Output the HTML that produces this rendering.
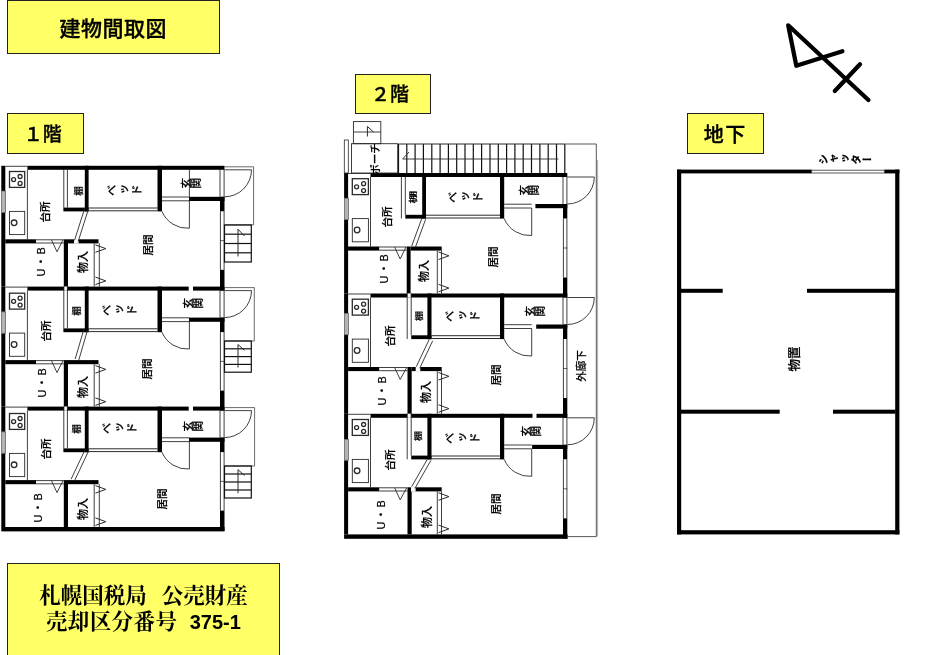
<!DOCTYPE html>
<html lang="ja"><head><meta charset="utf-8"><title>建物間取図</title>
<style>
html,body{margin:0;padding:0;background:#fff;}
body{width:931px;height:655px;position:relative;overflow:hidden;font-family:"Liberation Sans","Noto Sans CJK JP",sans-serif;color:#000;}
svg{position:absolute;left:0;top:0;}
.tag{position:absolute;background:#ffff66;border:1px solid #222;box-sizing:border-box;display:flex;align-items:center;justify-content:center;white-space:nowrap;}
.l{position:absolute;white-space:nowrap;line-height:1;color:#000;font-weight:500;-webkit-text-stroke:0.2px #000;filter:grayscale(1);transform:translate(-50%,-50%) rotate(-90deg);}
.g{filter:grayscale(1);}
span.g{-webkit-text-stroke:0.35px #000;}
.l.v{writing-mode:vertical-rl;text-orientation:upright;}
</style></head><body>
<svg width="931" height="655" viewBox="0 0 931 655">
<rect x="1.3" y="165.8" width="4.0" height="25.3" fill="#000"/>
<rect x="1.3" y="212.4" width="4.0" height="74.2" fill="#000"/>
<rect x="1.6" y="191.1" width="4.0" height="21.3" fill="#b4b4b4" stroke="#666" stroke-width="0.8"/>
<line x1="5.3" y1="166.3" x2="27.4" y2="166.3" stroke="#2a2a2a" stroke-width="0.9"/>
<rect x="27.4" y="165.8" width="197.1" height="4.0" fill="#000"/>
<line x1="27.4" y1="169.8" x2="27.4" y2="239.3" stroke="#2a2a2a" stroke-width="0.9"/>
<rect x="9.5" y="171.5" width="15.2" height="15.9" fill="none" stroke="#2a2a2a" stroke-width="1.3"/>
<circle cx="13.6" cy="179.6" r="2.0" fill="none" stroke="#2a2a2a" stroke-width="1.3"/>
<circle cx="20.1" cy="176.5" r="2.0" fill="none" stroke="#2a2a2a" stroke-width="1.3"/>
<circle cx="20.1" cy="183.4" r="2.0" fill="none" stroke="#2a2a2a" stroke-width="1.3"/>
<rect x="9.5" y="211.4" width="15.2" height="23.2" fill="none" stroke="#2a2a2a" stroke-width="0.9"/>
<circle cx="14.1" cy="222.8" r="2.8" fill="none" stroke="#2a2a2a" stroke-width="1.3"/>
<line x1="63.8" y1="169.8" x2="63.8" y2="211.3" stroke="#2a2a2a" stroke-width="0.9"/>
<line x1="67.4" y1="169.8" x2="67.4" y2="207.6" stroke="#2a2a2a" stroke-width="0.9"/>
<rect x="63.8" y="207.6" width="24.8" height="3.8" fill="#000"/>
<rect x="84.8" y="165.8" width="3.8" height="45.6" fill="#000"/>
<line x1="88.6" y1="208.0" x2="157.5" y2="208.0" stroke="#2a2a2a" stroke-width="1.0"/>
<line x1="88.6" y1="210.8" x2="157.5" y2="210.8" stroke="#2a2a2a" stroke-width="1.0"/>
<rect x="157.5" y="165.8" width="4.5" height="45.6" fill="#000"/>
<line x1="162.0" y1="197.0" x2="189.4" y2="197.0" stroke="#2a2a2a" stroke-width="0.9"/>
<line x1="162.0" y1="200.8" x2="189.4" y2="200.8" stroke="#2a2a2a" stroke-width="0.9"/>
<line x1="189.4" y1="169.8" x2="189.4" y2="196.8" stroke="#2a2a2a" stroke-width="0.9"/>
<rect x="189.0" y="196.8" width="35.5" height="4.2" fill="#000"/>
<rect x="220.0" y="196.8" width="4.5" height="14.5" fill="#000"/>
<line x1="189.4" y1="200.8" x2="189.4" y2="228.2" stroke="#2a2a2a" stroke-width="0.9"/>
<path d="M189.4,228.2 A27.4,27.4 0 0 1 162.0,211.4" fill="none" stroke="#2a2a2a" stroke-width="0.9" />
<line x1="220.0" y1="169.8" x2="220.0" y2="196.8" stroke="#2a2a2a" stroke-width="0.9"/>
<line x1="224.1" y1="169.8" x2="224.1" y2="196.8" stroke="#2a2a2a" stroke-width="0.9"/>
<line x1="220.4" y1="211.3" x2="220.4" y2="269.8" stroke="#2a2a2a" stroke-width="0.9"/>
<line x1="224.1" y1="211.3" x2="224.1" y2="269.8" stroke="#2a2a2a" stroke-width="0.9"/>
<line x1="220.0" y1="240.6" x2="224.5" y2="240.6" stroke="#2a2a2a" stroke-width="0.7"/>
<rect x="220.0" y="269.8" width="4.5" height="20.8" fill="#000"/>
<line x1="224.5" y1="169.8" x2="251.5" y2="169.8" stroke="#2a2a2a" stroke-width="0.9"/>
<path d="M251.5,169.8 A27,27 0 0 1 224.5,196.8" fill="none" stroke="#2a2a2a" stroke-width="0.9" />
<rect x="5.3" y="239.3" width="30.7" height="4.1" fill="#000"/>
<line x1="36.0" y1="239.8" x2="63.8" y2="239.8" stroke="#2a2a2a" stroke-width="0.9"/>
<line x1="36.0" y1="243.0" x2="63.8" y2="243.0" stroke="#2a2a2a" stroke-width="0.9"/>
<path d="M51.4,239.8 L57.0,251.8 L63.0,239.8" fill="none" stroke="#2a2a2a" stroke-width="0.9" />
<rect x="63.8" y="239.3" width="4.2" height="47.3" fill="#000"/>
<rect x="68.0" y="239.3" width="30.5" height="4.1" fill="#000"/>
<rect x="74.0" y="239.1" width="4.6" height="4.5" fill="#fff"/>
<line x1="94.2" y1="243.4" x2="94.2" y2="286.6" stroke="#2a2a2a" stroke-width="0.9"/>
<line x1="99.3" y1="243.4" x2="99.3" y2="286.6" stroke="#2a2a2a" stroke-width="0.9"/>
<path d="M95.4,244.8 L105.8,248.6 L95.4,252.3" fill="none" stroke="#2a2a2a" stroke-width="1.0" />
<path d="M95.4,277.1 L105.8,280.9 L95.4,284.6" fill="none" stroke="#2a2a2a" stroke-width="1.0" />
<line x1="84.7" y1="208.4" x2="74.5" y2="240.4" stroke="#2a2a2a" stroke-width="0.9"/>
<line x1="88.3" y1="209.6" x2="78.1" y2="241.6" stroke="#2a2a2a" stroke-width="0.9"/>
<rect x="1.3" y="286.6" width="4.0" height="25.3" fill="#000"/>
<rect x="1.3" y="333.2" width="4.0" height="73.4" fill="#000"/>
<rect x="1.6" y="311.9" width="4.0" height="21.3" fill="#b4b4b4" stroke="#666" stroke-width="0.8"/>
<line x1="5.3" y1="287.1" x2="27.4" y2="287.1" stroke="#2a2a2a" stroke-width="0.9"/>
<rect x="27.4" y="286.6" width="161.3" height="4.0" fill="#000"/>
<rect x="193.0" y="286.6" width="31.5" height="4.0" fill="#000"/>
<line x1="27.4" y1="290.6" x2="27.4" y2="360.1" stroke="#2a2a2a" stroke-width="0.9"/>
<rect x="9.5" y="293.2" width="15.2" height="15.9" fill="none" stroke="#2a2a2a" stroke-width="1.3"/>
<circle cx="13.6" cy="301.3" r="2.0" fill="none" stroke="#2a2a2a" stroke-width="1.3"/>
<circle cx="20.1" cy="298.2" r="2.0" fill="none" stroke="#2a2a2a" stroke-width="1.3"/>
<circle cx="20.1" cy="305.1" r="2.0" fill="none" stroke="#2a2a2a" stroke-width="1.3"/>
<rect x="9.5" y="333.1" width="15.2" height="23.2" fill="none" stroke="#2a2a2a" stroke-width="0.9"/>
<circle cx="14.1" cy="344.5" r="2.8" fill="none" stroke="#2a2a2a" stroke-width="1.3"/>
<line x1="63.8" y1="286.6" x2="63.8" y2="332.1" stroke="#2a2a2a" stroke-width="0.9"/>
<line x1="67.4" y1="286.6" x2="67.4" y2="328.4" stroke="#2a2a2a" stroke-width="0.9"/>
<rect x="64.3" y="286.6" width="2.6" height="4.0" fill="#fff"/>
<rect x="63.8" y="328.4" width="24.8" height="3.8" fill="#000"/>
<rect x="84.8" y="286.6" width="3.8" height="45.6" fill="#000"/>
<line x1="88.6" y1="328.8" x2="157.5" y2="328.8" stroke="#2a2a2a" stroke-width="1.0"/>
<line x1="88.6" y1="331.6" x2="157.5" y2="331.6" stroke="#2a2a2a" stroke-width="1.0"/>
<rect x="157.5" y="286.6" width="4.5" height="45.6" fill="#000"/>
<line x1="162.0" y1="317.8" x2="189.4" y2="317.8" stroke="#2a2a2a" stroke-width="0.9"/>
<line x1="162.0" y1="321.6" x2="189.4" y2="321.6" stroke="#2a2a2a" stroke-width="0.9"/>
<rect x="189.0" y="317.6" width="35.5" height="4.2" fill="#000"/>
<rect x="220.0" y="317.6" width="4.5" height="14.5" fill="#000"/>
<line x1="189.4" y1="321.6" x2="189.4" y2="349.0" stroke="#2a2a2a" stroke-width="0.9"/>
<path d="M189.4,349.0 A27.4,27.4 0 0 1 162.0,332.2" fill="none" stroke="#2a2a2a" stroke-width="0.9" />
<line x1="220.0" y1="290.6" x2="220.0" y2="317.6" stroke="#2a2a2a" stroke-width="0.9"/>
<line x1="224.1" y1="290.6" x2="224.1" y2="317.6" stroke="#2a2a2a" stroke-width="0.9"/>
<line x1="220.4" y1="332.1" x2="220.4" y2="390.6" stroke="#2a2a2a" stroke-width="0.9"/>
<line x1="224.1" y1="332.1" x2="224.1" y2="390.6" stroke="#2a2a2a" stroke-width="0.9"/>
<line x1="220.0" y1="361.4" x2="224.5" y2="361.4" stroke="#2a2a2a" stroke-width="0.7"/>
<rect x="220.0" y="390.6" width="4.5" height="20.0" fill="#000"/>
<line x1="224.5" y1="290.6" x2="251.5" y2="290.6" stroke="#2a2a2a" stroke-width="0.9"/>
<path d="M251.5,290.6 A27,27 0 0 1 224.5,317.6" fill="none" stroke="#2a2a2a" stroke-width="0.9" />
<rect x="5.3" y="360.1" width="30.7" height="4.1" fill="#000"/>
<line x1="36.0" y1="360.6" x2="63.8" y2="360.6" stroke="#2a2a2a" stroke-width="0.9"/>
<line x1="36.0" y1="363.8" x2="63.8" y2="363.8" stroke="#2a2a2a" stroke-width="0.9"/>
<path d="M51.4,360.6 L57.0,372.6 L63.0,360.6" fill="none" stroke="#2a2a2a" stroke-width="0.9" />
<rect x="63.8" y="360.1" width="4.2" height="46.5" fill="#000"/>
<rect x="68.0" y="360.1" width="30.5" height="4.1" fill="#000"/>
<line x1="94.2" y1="364.2" x2="94.2" y2="406.6" stroke="#2a2a2a" stroke-width="0.9"/>
<line x1="99.3" y1="364.2" x2="99.3" y2="406.6" stroke="#2a2a2a" stroke-width="0.9"/>
<path d="M95.4,365.6 L105.8,369.4 L95.4,373.1" fill="none" stroke="#2a2a2a" stroke-width="1.0" />
<path d="M95.4,397.9 L105.8,401.7 L95.4,405.4" fill="none" stroke="#2a2a2a" stroke-width="1.0" />
<line x1="83.8" y1="329.5" x2="75.2" y2="359.0" stroke="#2a2a2a" stroke-width="0.9"/>
<line x1="87.4" y1="330.5" x2="78.8" y2="360.0" stroke="#2a2a2a" stroke-width="0.9"/>
<rect x="1.3" y="406.6" width="4.0" height="25.3" fill="#000"/>
<rect x="1.3" y="453.2" width="4.0" height="73.8" fill="#000"/>
<rect x="1.6" y="431.9" width="4.0" height="21.3" fill="#b4b4b4" stroke="#666" stroke-width="0.8"/>
<line x1="5.3" y1="407.1" x2="27.4" y2="407.1" stroke="#2a2a2a" stroke-width="0.9"/>
<rect x="27.4" y="406.6" width="161.3" height="4.0" fill="#000"/>
<rect x="193.0" y="406.6" width="31.5" height="4.0" fill="#000"/>
<line x1="27.4" y1="410.6" x2="27.4" y2="480.1" stroke="#2a2a2a" stroke-width="0.9"/>
<rect x="9.5" y="413.5" width="15.2" height="15.9" fill="none" stroke="#2a2a2a" stroke-width="1.3"/>
<circle cx="13.6" cy="421.6" r="2.0" fill="none" stroke="#2a2a2a" stroke-width="1.3"/>
<circle cx="20.1" cy="418.5" r="2.0" fill="none" stroke="#2a2a2a" stroke-width="1.3"/>
<circle cx="20.1" cy="425.4" r="2.0" fill="none" stroke="#2a2a2a" stroke-width="1.3"/>
<rect x="9.5" y="453.4" width="15.2" height="23.2" fill="none" stroke="#2a2a2a" stroke-width="0.9"/>
<circle cx="14.1" cy="464.8" r="2.8" fill="none" stroke="#2a2a2a" stroke-width="1.3"/>
<line x1="63.8" y1="406.6" x2="63.8" y2="452.1" stroke="#2a2a2a" stroke-width="0.9"/>
<line x1="67.4" y1="406.6" x2="67.4" y2="448.4" stroke="#2a2a2a" stroke-width="0.9"/>
<rect x="64.3" y="406.6" width="2.6" height="4.0" fill="#fff"/>
<rect x="63.8" y="448.4" width="24.8" height="3.8" fill="#000"/>
<rect x="84.8" y="406.6" width="3.8" height="45.6" fill="#000"/>
<line x1="88.6" y1="448.8" x2="157.5" y2="448.8" stroke="#2a2a2a" stroke-width="1.0"/>
<line x1="88.6" y1="451.6" x2="157.5" y2="451.6" stroke="#2a2a2a" stroke-width="1.0"/>
<rect x="157.5" y="406.6" width="4.5" height="45.6" fill="#000"/>
<line x1="162.0" y1="437.8" x2="189.4" y2="437.8" stroke="#2a2a2a" stroke-width="0.9"/>
<line x1="162.0" y1="441.6" x2="189.4" y2="441.6" stroke="#2a2a2a" stroke-width="0.9"/>
<rect x="189.0" y="437.6" width="35.5" height="4.2" fill="#000"/>
<rect x="220.0" y="437.6" width="4.5" height="14.5" fill="#000"/>
<line x1="189.4" y1="441.6" x2="189.4" y2="469.0" stroke="#2a2a2a" stroke-width="0.9"/>
<path d="M189.4,469.0 A27.4,27.4 0 0 1 162.0,452.2" fill="none" stroke="#2a2a2a" stroke-width="0.9" />
<line x1="220.0" y1="410.6" x2="220.0" y2="437.6" stroke="#2a2a2a" stroke-width="0.9"/>
<line x1="224.1" y1="410.6" x2="224.1" y2="437.6" stroke="#2a2a2a" stroke-width="0.9"/>
<line x1="220.4" y1="452.1" x2="220.4" y2="510.6" stroke="#2a2a2a" stroke-width="0.9"/>
<line x1="224.1" y1="452.1" x2="224.1" y2="510.6" stroke="#2a2a2a" stroke-width="0.9"/>
<line x1="220.0" y1="481.4" x2="224.5" y2="481.4" stroke="#2a2a2a" stroke-width="0.7"/>
<rect x="220.0" y="510.6" width="4.5" height="20.4" fill="#000"/>
<line x1="224.5" y1="410.6" x2="251.5" y2="410.6" stroke="#2a2a2a" stroke-width="0.9"/>
<path d="M251.5,410.6 A27,27 0 0 1 224.5,437.6" fill="none" stroke="#2a2a2a" stroke-width="0.9" />
<rect x="5.3" y="480.1" width="30.7" height="4.1" fill="#000"/>
<line x1="36.0" y1="480.6" x2="63.8" y2="480.6" stroke="#2a2a2a" stroke-width="0.9"/>
<line x1="36.0" y1="483.8" x2="63.8" y2="483.8" stroke="#2a2a2a" stroke-width="0.9"/>
<path d="M51.4,480.6 L57.0,492.6 L63.0,480.6" fill="none" stroke="#2a2a2a" stroke-width="0.9" />
<rect x="63.8" y="480.1" width="4.2" height="46.9" fill="#000"/>
<rect x="68.0" y="480.1" width="30.5" height="4.1" fill="#000"/>
<line x1="94.2" y1="484.2" x2="94.2" y2="527.0" stroke="#2a2a2a" stroke-width="0.9"/>
<line x1="99.3" y1="484.2" x2="99.3" y2="527.0" stroke="#2a2a2a" stroke-width="0.9"/>
<path d="M95.4,485.6 L105.8,489.4 L95.4,493.1" fill="none" stroke="#2a2a2a" stroke-width="1.0" />
<path d="M95.4,517.9 L105.8,521.7 L95.4,525.4" fill="none" stroke="#2a2a2a" stroke-width="1.0" />
<line x1="85.3" y1="449.2" x2="71.1" y2="479.2" stroke="#2a2a2a" stroke-width="0.9"/>
<line x1="88.7" y1="450.8" x2="74.5" y2="480.8" stroke="#2a2a2a" stroke-width="0.9"/>
<rect x="1.3" y="527.0" width="223.2" height="4.4" fill="#000"/>
<path d="M224.5,166.8 L253.6,166.8 L253.6,224.8 L224.5,224.8" fill="none" stroke="#444" stroke-width="0.8" />
<rect x="224.5" y="225.0" width="26.8" height="37.0" fill="none" stroke="#111" stroke-width="1.2"/>
<line x1="224.5" y1="234.2" x2="251.3" y2="234.2" stroke="#111" stroke-width="1.2"/>
<line x1="224.5" y1="243.5" x2="251.3" y2="243.5" stroke="#111" stroke-width="1.2"/>
<line x1="224.5" y1="252.8" x2="251.3" y2="252.8" stroke="#111" stroke-width="1.2"/>
<line x1="238.0" y1="229.2" x2="238.0" y2="256.4" stroke="#2a2a2a" stroke-width="1.0"/>
<line x1="238.0" y1="229.2" x2="244.5" y2="236.1" stroke="#2a2a2a" stroke-width="1.0"/>
<path d="M224.5,287.6 L254.3,287.6 L254.3,341.0 L224.5,341.0" fill="none" stroke="#444" stroke-width="0.8" />
<rect x="224.5" y="341.0" width="26.8" height="31.2" fill="none" stroke="#111" stroke-width="1.2"/>
<line x1="224.5" y1="348.8" x2="251.3" y2="348.8" stroke="#111" stroke-width="1.2"/>
<line x1="224.5" y1="356.6" x2="251.3" y2="356.6" stroke="#111" stroke-width="1.2"/>
<line x1="224.5" y1="364.4" x2="251.3" y2="364.4" stroke="#111" stroke-width="1.2"/>
<line x1="238.0" y1="344.5" x2="238.0" y2="367.5" stroke="#2a2a2a" stroke-width="1.0"/>
<line x1="238.0" y1="344.5" x2="244.5" y2="350.4" stroke="#2a2a2a" stroke-width="1.0"/>
<path d="M224.5,407.6 L254.6,407.6 L254.6,466.0 L224.5,466.0" fill="none" stroke="#444" stroke-width="0.8" />
<rect x="224.5" y="466.0" width="26.8" height="32.0" fill="none" stroke="#111" stroke-width="1.2"/>
<line x1="224.5" y1="474.0" x2="251.3" y2="474.0" stroke="#111" stroke-width="1.2"/>
<line x1="224.5" y1="482.0" x2="251.3" y2="482.0" stroke="#111" stroke-width="1.2"/>
<line x1="224.5" y1="490.0" x2="251.3" y2="490.0" stroke="#111" stroke-width="1.2"/>
<line x1="238.0" y1="469.6" x2="238.0" y2="493.2" stroke="#2a2a2a" stroke-width="1.0"/>
<line x1="238.0" y1="469.6" x2="244.5" y2="475.6" stroke="#2a2a2a" stroke-width="1.0"/>
<rect x="344.1" y="173.0" width="4.0" height="25.3" fill="#000"/>
<rect x="344.1" y="219.6" width="4.0" height="73.9" fill="#000"/>
<rect x="344.4" y="198.3" width="4.0" height="21.3" fill="#b4b4b4" stroke="#666" stroke-width="0.8"/>
<line x1="348.1" y1="173.5" x2="370.5" y2="173.5" stroke="#2a2a2a" stroke-width="0.9"/>
<rect x="370.5" y="173.0" width="196.8" height="4.0" fill="#000"/>
<line x1="370.5" y1="177.0" x2="370.5" y2="246.5" stroke="#2a2a2a" stroke-width="0.9"/>
<rect x="352.3" y="178.7" width="16.1" height="15.9" fill="none" stroke="#2a2a2a" stroke-width="1.3"/>
<circle cx="356.6" cy="186.8" r="2.0" fill="none" stroke="#2a2a2a" stroke-width="1.3"/>
<circle cx="363.6" cy="183.7" r="2.0" fill="none" stroke="#2a2a2a" stroke-width="1.3"/>
<circle cx="363.6" cy="190.6" r="2.0" fill="none" stroke="#2a2a2a" stroke-width="1.3"/>
<rect x="352.3" y="218.6" width="16.1" height="23.2" fill="none" stroke="#2a2a2a" stroke-width="0.9"/>
<circle cx="357.1" cy="230.0" r="2.8" fill="none" stroke="#2a2a2a" stroke-width="1.3"/>
<line x1="401.4" y1="177.0" x2="401.4" y2="218.5" stroke="#2a2a2a" stroke-width="0.9"/>
<line x1="405.3" y1="177.0" x2="405.3" y2="214.8" stroke="#2a2a2a" stroke-width="0.9"/>
<rect x="405.3" y="214.8" width="20.7" height="3.8" fill="#000"/>
<rect x="422.2" y="173.0" width="3.8" height="45.6" fill="#000"/>
<line x1="426.0" y1="215.2" x2="500.0" y2="215.2" stroke="#2a2a2a" stroke-width="1.0"/>
<line x1="426.0" y1="218.0" x2="500.0" y2="218.0" stroke="#2a2a2a" stroke-width="1.0"/>
<rect x="500.0" y="173.0" width="4.2" height="45.6" fill="#000"/>
<line x1="504.2" y1="204.2" x2="531.7" y2="204.2" stroke="#2a2a2a" stroke-width="0.9"/>
<line x1="504.2" y1="208.0" x2="531.7" y2="208.0" stroke="#2a2a2a" stroke-width="0.9"/>
<rect x="535.4" y="204.0" width="31.9" height="4.2" fill="#000"/>
<rect x="563.0" y="204.0" width="4.3" height="14.5" fill="#000"/>
<line x1="531.7" y1="208.0" x2="531.7" y2="235.5" stroke="#2a2a2a" stroke-width="0.9"/>
<path d="M531.7,235.5 A27.5,27.5 0 0 1 504.2,218.6" fill="none" stroke="#2a2a2a" stroke-width="0.9" />
<line x1="563.0" y1="177.0" x2="563.0" y2="204.0" stroke="#2a2a2a" stroke-width="0.9"/>
<line x1="566.9" y1="177.0" x2="566.9" y2="204.0" stroke="#2a2a2a" stroke-width="0.9"/>
<line x1="563.4" y1="218.5" x2="563.4" y2="277.5" stroke="#2a2a2a" stroke-width="0.9"/>
<line x1="566.9" y1="218.5" x2="566.9" y2="277.5" stroke="#2a2a2a" stroke-width="0.9"/>
<line x1="563.0" y1="248.0" x2="567.3" y2="248.0" stroke="#2a2a2a" stroke-width="0.7"/>
<rect x="563.0" y="277.5" width="4.3" height="20.0" fill="#000"/>
<line x1="567.3" y1="177.0" x2="594.3" y2="177.0" stroke="#2a2a2a" stroke-width="0.9"/>
<path d="M594.3,177.0 A27,27 0 0 1 567.3,204.0" fill="none" stroke="#2a2a2a" stroke-width="0.9" />
<rect x="348.1" y="246.5" width="31.1" height="4.1" fill="#000"/>
<line x1="379.2" y1="247.0" x2="406.7" y2="247.0" stroke="#2a2a2a" stroke-width="0.9"/>
<line x1="379.2" y1="250.2" x2="406.7" y2="250.2" stroke="#2a2a2a" stroke-width="0.9"/>
<path d="M394.6,247.0 L400.2,259.0 L405.9,247.0" fill="none" stroke="#2a2a2a" stroke-width="0.9" />
<rect x="406.7" y="246.5" width="3.9" height="47.0" fill="#000"/>
<rect x="410.6" y="246.5" width="31.1" height="4.1" fill="#000"/>
<line x1="437.3" y1="250.6" x2="437.3" y2="293.5" stroke="#2a2a2a" stroke-width="0.9"/>
<line x1="441.5" y1="250.6" x2="441.5" y2="293.5" stroke="#2a2a2a" stroke-width="0.9"/>
<path d="M438.5,252.0 L448.9,255.8 L438.5,259.5" fill="none" stroke="#2a2a2a" stroke-width="1.0" />
<path d="M438.5,284.3 L448.9,288.1 L438.5,291.8" fill="none" stroke="#2a2a2a" stroke-width="1.0" />
<line x1="422.0" y1="217.9" x2="411.7" y2="246.1" stroke="#2a2a2a" stroke-width="0.9"/>
<line x1="425.6" y1="219.3" x2="415.3" y2="247.5" stroke="#2a2a2a" stroke-width="0.9"/>
<rect x="344.1" y="293.5" width="4.0" height="20.0" fill="#000"/>
<rect x="344.1" y="334.7" width="4.0" height="79.1" fill="#000"/>
<rect x="344.4" y="313.5" width="4.0" height="21.2" fill="#b4b4b4" stroke="#666" stroke-width="0.8"/>
<line x1="348.1" y1="294.0" x2="370.5" y2="294.0" stroke="#2a2a2a" stroke-width="0.9"/>
<rect x="370.5" y="293.5" width="196.8" height="4.0" fill="#000"/>
<line x1="370.5" y1="297.5" x2="370.5" y2="367.0" stroke="#2a2a2a" stroke-width="0.9"/>
<rect x="352.3" y="299.2" width="16.1" height="15.9" fill="none" stroke="#2a2a2a" stroke-width="1.3"/>
<circle cx="356.6" cy="307.3" r="2.0" fill="none" stroke="#2a2a2a" stroke-width="1.3"/>
<circle cx="363.6" cy="304.2" r="2.0" fill="none" stroke="#2a2a2a" stroke-width="1.3"/>
<circle cx="363.6" cy="311.1" r="2.0" fill="none" stroke="#2a2a2a" stroke-width="1.3"/>
<rect x="352.3" y="339.1" width="16.1" height="23.2" fill="none" stroke="#2a2a2a" stroke-width="0.9"/>
<circle cx="357.1" cy="350.5" r="2.8" fill="none" stroke="#2a2a2a" stroke-width="1.3"/>
<line x1="407.2" y1="293.5" x2="407.2" y2="339.0" stroke="#2a2a2a" stroke-width="0.9"/>
<line x1="411.2" y1="293.5" x2="411.2" y2="335.3" stroke="#2a2a2a" stroke-width="0.9"/>
<rect x="407.7" y="293.5" width="3.0" height="4.0" fill="#fff"/>
<rect x="411.2" y="335.3" width="20.3" height="3.8" fill="#000"/>
<rect x="427.4" y="293.5" width="4.1" height="45.6" fill="#000"/>
<line x1="431.5" y1="335.7" x2="500.0" y2="335.7" stroke="#2a2a2a" stroke-width="1.0"/>
<line x1="431.5" y1="338.5" x2="500.0" y2="338.5" stroke="#2a2a2a" stroke-width="1.0"/>
<rect x="500.0" y="293.5" width="4.2" height="45.6" fill="#000"/>
<line x1="504.2" y1="324.7" x2="531.7" y2="324.7" stroke="#2a2a2a" stroke-width="0.9"/>
<line x1="504.2" y1="328.5" x2="531.7" y2="328.5" stroke="#2a2a2a" stroke-width="0.9"/>
<rect x="536.2" y="324.5" width="31.1" height="4.2" fill="#000"/>
<rect x="563.0" y="324.5" width="4.3" height="14.5" fill="#000"/>
<line x1="531.7" y1="328.5" x2="531.7" y2="356.0" stroke="#2a2a2a" stroke-width="0.9"/>
<path d="M531.7,356.0 A27.5,27.5 0 0 1 504.2,339.1" fill="none" stroke="#2a2a2a" stroke-width="0.9" />
<line x1="563.0" y1="297.5" x2="563.0" y2="324.5" stroke="#2a2a2a" stroke-width="0.9"/>
<line x1="566.9" y1="297.5" x2="566.9" y2="324.5" stroke="#2a2a2a" stroke-width="0.9"/>
<line x1="563.4" y1="339.0" x2="563.4" y2="398.0" stroke="#2a2a2a" stroke-width="0.9"/>
<line x1="566.9" y1="339.0" x2="566.9" y2="398.0" stroke="#2a2a2a" stroke-width="0.9"/>
<line x1="563.0" y1="368.5" x2="567.3" y2="368.5" stroke="#2a2a2a" stroke-width="0.7"/>
<rect x="563.0" y="398.0" width="4.3" height="19.8" fill="#000"/>
<line x1="567.3" y1="297.5" x2="594.3" y2="297.5" stroke="#2a2a2a" stroke-width="0.9"/>
<path d="M594.3,297.5 A27,27 0 0 1 567.3,324.5" fill="none" stroke="#2a2a2a" stroke-width="0.9" />
<rect x="348.1" y="367.0" width="31.1" height="4.1" fill="#000"/>
<line x1="379.2" y1="367.5" x2="407.5" y2="367.5" stroke="#2a2a2a" stroke-width="0.9"/>
<line x1="379.2" y1="370.7" x2="407.5" y2="370.7" stroke="#2a2a2a" stroke-width="0.9"/>
<path d="M394.6,367.5 L400.2,379.5 L406.7,367.5" fill="none" stroke="#2a2a2a" stroke-width="0.9" />
<rect x="407.5" y="367.0" width="4.2" height="46.8" fill="#000"/>
<rect x="411.7" y="367.0" width="30.0" height="4.1" fill="#000"/>
<rect x="415.7" y="366.8" width="4.6" height="4.5" fill="#fff"/>
<line x1="437.3" y1="371.1" x2="437.3" y2="413.8" stroke="#2a2a2a" stroke-width="0.9"/>
<line x1="441.5" y1="371.1" x2="441.5" y2="413.8" stroke="#2a2a2a" stroke-width="0.9"/>
<path d="M438.5,372.5 L448.9,376.3 L438.5,380.0" fill="none" stroke="#2a2a2a" stroke-width="1.0" />
<path d="M438.5,404.8 L448.9,408.6 L438.5,412.3" fill="none" stroke="#2a2a2a" stroke-width="1.0" />
<line x1="429.3" y1="339.2" x2="416.3" y2="366.7" stroke="#2a2a2a" stroke-width="0.9"/>
<line x1="432.7" y1="340.8" x2="419.7" y2="368.3" stroke="#2a2a2a" stroke-width="0.9"/>
<rect x="344.1" y="413.8" width="4.0" height="25.7" fill="#000"/>
<rect x="344.1" y="460.2" width="4.0" height="74.2" fill="#000"/>
<rect x="344.4" y="439.5" width="4.0" height="20.7" fill="#b4b4b4" stroke="#666" stroke-width="0.8"/>
<line x1="348.1" y1="414.3" x2="370.5" y2="414.3" stroke="#2a2a2a" stroke-width="0.9"/>
<rect x="370.5" y="413.8" width="162.0" height="4.0" fill="#000"/>
<rect x="536.5" y="413.8" width="30.8" height="4.0" fill="#000"/>
<line x1="370.5" y1="417.8" x2="370.5" y2="487.3" stroke="#2a2a2a" stroke-width="0.9"/>
<rect x="352.3" y="419.5" width="16.1" height="15.9" fill="none" stroke="#2a2a2a" stroke-width="1.3"/>
<circle cx="356.6" cy="427.6" r="2.0" fill="none" stroke="#2a2a2a" stroke-width="1.3"/>
<circle cx="363.6" cy="424.5" r="2.0" fill="none" stroke="#2a2a2a" stroke-width="1.3"/>
<circle cx="363.6" cy="431.4" r="2.0" fill="none" stroke="#2a2a2a" stroke-width="1.3"/>
<rect x="352.3" y="459.4" width="16.1" height="23.2" fill="none" stroke="#2a2a2a" stroke-width="0.9"/>
<circle cx="357.1" cy="470.8" r="2.8" fill="none" stroke="#2a2a2a" stroke-width="1.3"/>
<line x1="407.2" y1="413.8" x2="407.2" y2="459.3" stroke="#2a2a2a" stroke-width="0.9"/>
<line x1="411.2" y1="413.8" x2="411.2" y2="455.6" stroke="#2a2a2a" stroke-width="0.9"/>
<rect x="407.7" y="413.8" width="3.0" height="4.0" fill="#fff"/>
<rect x="411.2" y="455.6" width="20.3" height="3.8" fill="#000"/>
<rect x="427.4" y="413.8" width="4.1" height="45.6" fill="#000"/>
<line x1="431.5" y1="456.0" x2="500.0" y2="456.0" stroke="#2a2a2a" stroke-width="1.0"/>
<line x1="431.5" y1="458.8" x2="500.0" y2="458.8" stroke="#2a2a2a" stroke-width="1.0"/>
<rect x="500.0" y="413.8" width="4.2" height="45.6" fill="#000"/>
<line x1="504.2" y1="445.0" x2="531.7" y2="445.0" stroke="#2a2a2a" stroke-width="0.9"/>
<line x1="504.2" y1="448.8" x2="531.7" y2="448.8" stroke="#2a2a2a" stroke-width="0.9"/>
<rect x="532.1" y="444.8" width="35.2" height="4.2" fill="#000"/>
<rect x="563.0" y="444.8" width="4.3" height="14.5" fill="#000"/>
<line x1="531.7" y1="448.8" x2="531.7" y2="476.3" stroke="#2a2a2a" stroke-width="0.9"/>
<path d="M531.7,476.3 A27.5,27.5 0 0 1 504.2,459.4" fill="none" stroke="#2a2a2a" stroke-width="0.9" />
<line x1="563.0" y1="417.8" x2="563.0" y2="444.8" stroke="#2a2a2a" stroke-width="0.9"/>
<line x1="566.9" y1="417.8" x2="566.9" y2="444.8" stroke="#2a2a2a" stroke-width="0.9"/>
<line x1="563.4" y1="459.3" x2="563.4" y2="518.3" stroke="#2a2a2a" stroke-width="0.9"/>
<line x1="566.9" y1="459.3" x2="566.9" y2="518.3" stroke="#2a2a2a" stroke-width="0.9"/>
<line x1="563.0" y1="488.8" x2="567.3" y2="488.8" stroke="#2a2a2a" stroke-width="0.7"/>
<rect x="563.0" y="518.3" width="4.3" height="20.1" fill="#000"/>
<line x1="567.3" y1="417.8" x2="594.3" y2="417.8" stroke="#2a2a2a" stroke-width="0.9"/>
<path d="M594.3,417.8 A27,27 0 0 1 567.3,444.8" fill="none" stroke="#2a2a2a" stroke-width="0.9" />
<rect x="348.1" y="487.3" width="31.1" height="4.1" fill="#000"/>
<line x1="379.2" y1="487.8" x2="407.5" y2="487.8" stroke="#2a2a2a" stroke-width="0.9"/>
<line x1="379.2" y1="491.0" x2="407.5" y2="491.0" stroke="#2a2a2a" stroke-width="0.9"/>
<path d="M394.6,487.8 L400.2,499.8 L406.7,487.8" fill="none" stroke="#2a2a2a" stroke-width="0.9" />
<rect x="407.5" y="487.3" width="4.2" height="47.1" fill="#000"/>
<rect x="411.7" y="487.3" width="30.0" height="4.1" fill="#000"/>
<rect x="411.0" y="487.1" width="4.6" height="4.5" fill="#fff"/>
<line x1="437.3" y1="491.4" x2="437.3" y2="534.4" stroke="#2a2a2a" stroke-width="0.9"/>
<line x1="441.5" y1="491.4" x2="441.5" y2="534.4" stroke="#2a2a2a" stroke-width="0.9"/>
<path d="M438.5,492.8 L448.9,496.6 L438.5,500.3" fill="none" stroke="#2a2a2a" stroke-width="1.0" />
<path d="M438.5,525.1 L448.9,528.9 L438.5,532.6" fill="none" stroke="#2a2a2a" stroke-width="1.0" />
<line x1="427.7" y1="458.6" x2="411.7" y2="486.6" stroke="#2a2a2a" stroke-width="0.9"/>
<line x1="430.9" y1="460.4" x2="414.9" y2="488.4" stroke="#2a2a2a" stroke-width="0.9"/>
<rect x="344.1" y="534.4" width="223.5" height="4.4" fill="#000"/>
<line x1="398.5" y1="144.0" x2="398.5" y2="173.0" stroke="#111" stroke-width="1.2"/>
<line x1="406.8" y1="144.0" x2="406.8" y2="173.0" stroke="#111" stroke-width="1.2"/>
<line x1="415.1" y1="144.0" x2="415.1" y2="173.0" stroke="#111" stroke-width="1.2"/>
<line x1="423.4" y1="144.0" x2="423.4" y2="173.0" stroke="#111" stroke-width="1.2"/>
<line x1="431.8" y1="144.0" x2="431.8" y2="173.0" stroke="#111" stroke-width="1.2"/>
<line x1="440.1" y1="144.0" x2="440.1" y2="173.0" stroke="#111" stroke-width="1.2"/>
<line x1="448.4" y1="144.0" x2="448.4" y2="173.0" stroke="#111" stroke-width="1.2"/>
<line x1="456.7" y1="144.0" x2="456.7" y2="173.0" stroke="#111" stroke-width="1.2"/>
<line x1="465.0" y1="144.0" x2="465.0" y2="173.0" stroke="#111" stroke-width="1.2"/>
<line x1="473.3" y1="144.0" x2="473.3" y2="173.0" stroke="#111" stroke-width="1.2"/>
<line x1="481.6" y1="144.0" x2="481.6" y2="173.0" stroke="#111" stroke-width="1.2"/>
<line x1="490.0" y1="144.0" x2="490.0" y2="173.0" stroke="#111" stroke-width="1.2"/>
<line x1="498.3" y1="144.0" x2="498.3" y2="173.0" stroke="#111" stroke-width="1.2"/>
<line x1="506.6" y1="144.0" x2="506.6" y2="173.0" stroke="#111" stroke-width="1.2"/>
<line x1="514.9" y1="144.0" x2="514.9" y2="173.0" stroke="#111" stroke-width="1.2"/>
<line x1="523.2" y1="144.0" x2="523.2" y2="173.0" stroke="#111" stroke-width="1.2"/>
<line x1="531.5" y1="144.0" x2="531.5" y2="173.0" stroke="#111" stroke-width="1.2"/>
<line x1="539.9" y1="144.0" x2="539.9" y2="173.0" stroke="#111" stroke-width="1.2"/>
<line x1="548.2" y1="144.0" x2="548.2" y2="173.0" stroke="#111" stroke-width="1.2"/>
<line x1="556.5" y1="144.0" x2="556.5" y2="173.0" stroke="#111" stroke-width="1.2"/>
<line x1="564.8" y1="144.0" x2="564.8" y2="173.0" stroke="#111" stroke-width="1.2"/>
<line x1="398.5" y1="144.0" x2="564.8" y2="144.0" stroke="#2a2a2a" stroke-width="1.0"/>
<line x1="402.6" y1="159.0" x2="558.4" y2="159.0" stroke="#2a2a2a" stroke-width="0.9"/>
<line x1="402.6" y1="159.0" x2="409.0" y2="152.0" stroke="#2a2a2a" stroke-width="0.9"/>
<path d="M564.8,144 L596.3,144 L596.3,536.6 L567.5,536.6" fill="none" stroke="#444" stroke-width="0.9" />
<line x1="597.6" y1="160.0" x2="597.6" y2="536.6" stroke="#777" stroke-width="0.6"/>
<rect x="351.5" y="143.7" width="46.2" height="29.3" fill="none" stroke="#2a2a2a" stroke-width="0.9"/>
<rect x="353.4" y="121.6" width="27.4" height="22.1" fill="none" stroke="#2a2a2a" stroke-width="0.9"/>
<line x1="353.4" y1="132.0" x2="380.8" y2="132.0" stroke="#2a2a2a" stroke-width="0.9"/>
<line x1="367.4" y1="126.5" x2="367.4" y2="136.5" stroke="#2a2a2a" stroke-width="1.0"/>
<line x1="367.4" y1="126.5" x2="373.5" y2="132.0" stroke="#2a2a2a" stroke-width="1.0"/>
<rect x="344.3" y="140.0" width="4.0" height="33.0" fill="none" stroke="#2a2a2a" stroke-width="0.8"/>
<rect x="677.0" y="169.6" width="134.7" height="3.8" fill="#000"/>
<rect x="884.3" y="169.6" width="15.1" height="3.8" fill="#000"/>
<rect x="811.7" y="170.2" width="72.6" height="2.8" fill="#fff" stroke="#333" stroke-width="0.8"/>
<rect x="677.0" y="169.6" width="4.2" height="364.8" fill="#000"/>
<rect x="895.2" y="169.6" width="4.2" height="364.8" fill="#000"/>
<rect x="677.0" y="530.2" width="222.4" height="4.2" fill="#000"/>
<rect x="681.0" y="288.8" width="41.7" height="4.0" fill="#000"/>
<rect x="807.0" y="288.8" width="88.5" height="4.0" fill="#000"/>
<rect x="681.0" y="409.7" width="98.7" height="4.0" fill="#000"/>
<rect x="833.0" y="409.7" width="62.5" height="4.0" fill="#000"/>
<path d="M842.4,51.2 L796.3,65.7 L788.2,25.3 L868.4,100 M834.8,91 L860,64.2" fill="none" stroke="#000" stroke-width="4.3" stroke-linecap="round" stroke-linejoin="round"/>
</svg>
<div class="l r" style="left:44.7px;top:211.7px;font-size:10.5px;">台所</div>
<div class="l r" style="left:79.1px;top:191.0px;font-size:9.5px;">棚</div>
<div class="l v" style="left:124.7px;top:192.0px;font-size:11.5px;letter-spacing:1.2px;">ベッド</div>
<div class="l v" style="left:190.7px;top:184.4px;font-size:10.5px;">玄関</div>
<div class="l r" style="left:148.0px;top:245.0px;font-size:10.5px;">居間</div>
<div class="l r" style="left:41.0px;top:260.5px;font-size:11px;letter-spacing:1.5px;">U・B</div>
<div class="l r" style="left:82.8px;top:261.5px;font-size:11px;">物入</div>
<div class="l r" style="left:46.4px;top:330.8px;font-size:10.5px;">台所</div>
<div class="l r" style="left:77.4px;top:310.5px;font-size:9.5px;">棚</div>
<div class="l v" style="left:120.4px;top:311.9px;font-size:11.5px;letter-spacing:1.2px;">ベッド</div>
<div class="l v" style="left:192.9px;top:304.2px;font-size:10.5px;">玄関</div>
<div class="l r" style="left:147.3px;top:368.5px;font-size:10.5px;">居間</div>
<div class="l r" style="left:42.3px;top:381.5px;font-size:11px;letter-spacing:1.5px;">U・B</div>
<div class="l r" style="left:82.8px;top:387.0px;font-size:11px;">物入</div>
<div class="l r" style="left:46.4px;top:449.3px;font-size:10.5px;">台所</div>
<div class="l r" style="left:77.4px;top:429.0px;font-size:9.5px;">棚</div>
<div class="l v" style="left:120.4px;top:430.4px;font-size:11.5px;letter-spacing:1.2px;">ベッド</div>
<div class="l v" style="left:192.9px;top:426.5px;font-size:10.5px;">玄関</div>
<div class="l r" style="left:161.8px;top:498.6px;font-size:10.5px;">居間</div>
<div class="l r" style="left:37.7px;top:506.8px;font-size:11px;letter-spacing:1.5px;">U・B</div>
<div class="l r" style="left:82.8px;top:508.8px;font-size:11px;">物入</div>
<div class="l r" style="left:386.6px;top:217.1px;font-size:10.5px;">台所</div>
<div class="l r" style="left:414.4px;top:196.8px;font-size:8px;transform:translate(-50%,-50%) rotate(-90deg) scaleX(1.6);">棚</div>
<div class="l v" style="left:465.5px;top:198.8px;font-size:11.5px;letter-spacing:1.2px;">ベッド</div>
<div class="l v" style="left:528.7px;top:190.8px;font-size:10.5px;">玄関</div>
<div class="l r" style="left:493.0px;top:257.1px;font-size:10.5px;">居間</div>
<div class="l r" style="left:383.7px;top:267.5px;font-size:11px;letter-spacing:1.5px;">U・B</div>
<div class="l r" style="left:424.2px;top:270.5px;font-size:11px;">物入</div>
<div class="l r" style="left:390.1px;top:335.8px;font-size:10.5px;">台所</div>
<div class="l r" style="left:419.6px;top:316.3px;font-size:8px;transform:translate(-50%,-50%) rotate(-90deg) scaleX(1.25);">棚</div>
<div class="l v" style="left:463.2px;top:317.5px;font-size:11.5px;letter-spacing:1.2px;">ベッド</div>
<div class="l v" style="left:535.1px;top:312.1px;font-size:10.5px;">玄関</div>
<div class="l r" style="left:496.0px;top:375.0px;font-size:10.5px;">居間</div>
<div class="l r" style="left:381.9px;top:390.0px;font-size:11px;letter-spacing:1.5px;">U・B</div>
<div class="l r" style="left:426.2px;top:392.4px;font-size:11px;">物入</div>
<div class="l r" style="left:390.1px;top:460.1px;font-size:10.5px;">台所</div>
<div class="l r" style="left:419.0px;top:435.5px;font-size:8px;transform:translate(-50%,-50%) rotate(-90deg) scaleX(1.25);">棚</div>
<div class="l v" style="left:463.2px;top:440.4px;font-size:11.5px;letter-spacing:1.2px;">ベッド</div>
<div class="l v" style="left:530.8px;top:432.1px;font-size:10.5px;">玄関</div>
<div class="l r" style="left:496.0px;top:503.6px;font-size:10.5px;">居間</div>
<div class="l r" style="left:381.2px;top:514.4px;font-size:11px;letter-spacing:1.5px;">U・B</div>
<div class="l r" style="left:426.8px;top:517.0px;font-size:11px;">物入</div>
<div class="l r" style="left:374.6px;top:158.5px;font-size:10.5px;">ポーチ</div>
<div class="l r" style="left:580.6px;top:365.5px;font-size:10.5px;">外廊下</div>
<div class="l r" style="left:795.2px;top:358.7px;font-size:12.5px;">物置</div>
<div class="l v" style="left:844.8px;top:160.3px;font-size:10.5px;letter-spacing:0.4px;font-weight:700;">シャッター</div>
<div class="tag" style="left:7px;top:0px;width:212.5px;height:53.5px;font-size:21px;letter-spacing:0.5px;font-weight:500;"><span class="g">建物間取図</span></div>
<div class="tag" style="left:7px;top:113px;width:76.7px;height:41px;font-size:19px;font-weight:500;padding-right:5px;padding-bottom:3px;"><span class="g">１階</span></div>
<div class="tag" style="left:355px;top:74px;width:76px;height:40px;font-size:19px;font-weight:500;padding-right:6px;padding-bottom:4px;"><span class="g">２階</span></div>
<div class="tag" style="left:687px;top:113px;width:76.5px;height:41px;font-size:20px;font-weight:500;letter-spacing:1.5px;"><span class="g">地下</span></div>
<div class="tag" style="left:7px;top:563px;width:272.8px;height:95px;font-family:'Liberation Sans','Noto Serif CJK JP','Noto Serif CJK SC',serif;font-weight:700;font-size:21.5px;flex-direction:column;line-height:26px;padding-bottom:4px;word-spacing:9px;">
<div class="g">札幌国税局 公売財産</div><div class="g" style="letter-spacing:0.4px;">売却区分番号 <span style="font-family:'Liberation Sans',sans-serif;font-size:20px;font-weight:bold;margin-left:-3px;letter-spacing:0;">375-1</span></div></div>
</body></html>
